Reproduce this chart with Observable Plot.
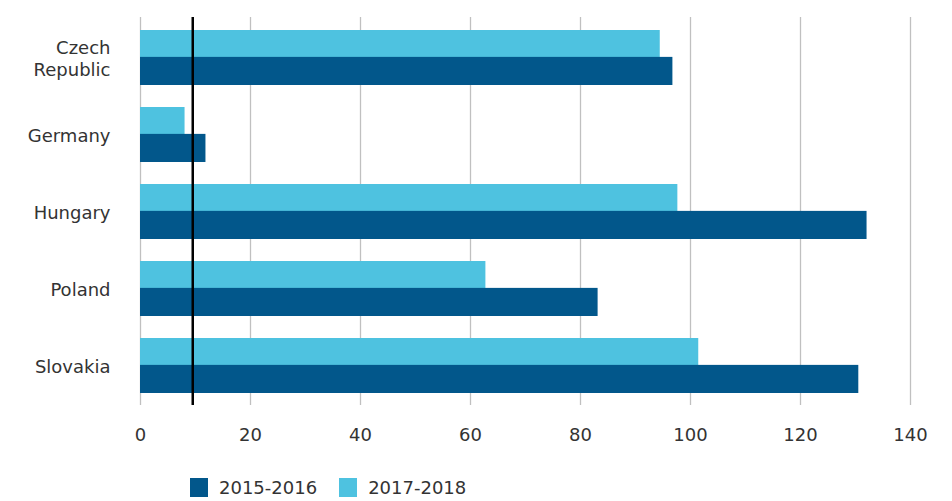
<!DOCTYPE html>
<html>
<head>
<meta charset="utf-8">
<script src="https://cdn.jsdelivr.net/npm/d3@7"></script>
<script src="https://cdn.jsdelivr.net/npm/@observablehq/plot@0.6"></script>
<style>
  body { margin: 0; background: #fff; font-family: "DejaVu Sans", sans-serif; }
  #chart svg { display: block; }
  .legend { display: flex; align-items: center; margin-left: 190px; margin-top: 12px; font-size: 18px; color: #333; }
  .legend .sw { width: 18px; height: 19px; margin-right: 11px; }
  .legend .item { display: flex; align-items: center; margin-right: 22px; }
</style>
</head>
<body>
<div id="chart"></div>
<script>
const countries = ["Czech Republic", "Germany", "Hungary", "Poland", "Slovakia"];
const labels = ["Czech\nRepublic", "Germany", "Hungary", "Poland", "Slovakia"];
const series = ["2015-2016", "2017-2018"];
const values2015 = [96.8, 11.9, 132.1, 83.2, 130.6];
const values2017 = [94.5, 8.1, 97.7, 62.8, 101.5];
const reference = 9.5;
const xTicks = [0, 20, 40, 60, 80, 100, 120, 140];
const colors = ["#02578b", "#4ec2e0"];

const width = 952, height = 465;
const marginTop = 17, marginBottom = 60, marginLeft = 140, marginRight = 42;
const padIn = 0.29, padOut = 0.16;

const band = d3.scaleBand().domain(countries)
  .range([marginTop, height - marginBottom])
  .paddingInner(padIn).paddingOuter(padOut);
const half = band.bandwidth() / 2;

const d15 = countries.map((c, i) => ({country: c, value: values2015[i]}));
const d17 = countries.map((c, i) => ({country: c, value: values2017[i]}));

const plot = Plot.plot({
  width, height, marginTop, marginBottom, marginLeft, marginRight,
  style: {fontFamily: "DejaVu Sans, sans-serif", color: "#333", background: "#fff"},
  x: {domain: [0, 140]},
  y: {domain: countries, paddingInner: padIn, paddingOuter: padOut},
  marks: [
    Plot.ruleX(xTicks, {stroke: "#c0c0c0", strokeWidth: 1.3}),
    Plot.barX(d17, {y: "country", x: "value", fill: colors[1], insetBottom: half}),
    Plot.barX(d15, {y: "country", x: "value", fill: colors[0], insetTop: half - 0.5}),
    Plot.ruleX([reference], {stroke: "#000", strokeWidth: 2.5}),
    Plot.axisX({ticks: xTicks, tickSize: 0, tickPadding: 23, fontSize: 18, fill: "#333", label: null}),
    Plot.axisY({tickSize: 0, tickPadding: 30, fontSize: 18, fill: "#333", lineHeight: 1.25,
      tickFormat: d => labels[countries.indexOf(d)], label: null})
  ]
});
document.getElementById("chart").appendChild(plot);

const legend = document.createElement("div");
legend.className = "legend";
series.forEach((s, i) => {
  const item = document.createElement("div");
  item.className = "item";
  const sw = document.createElement("div");
  sw.className = "sw";
  sw.style.background = colors[i];
  const t = document.createElement("span");
  t.textContent = s;
  item.appendChild(sw); item.appendChild(t);
  legend.appendChild(item);
});
document.getElementById("chart").appendChild(legend);
</script>
</body>
</html>
